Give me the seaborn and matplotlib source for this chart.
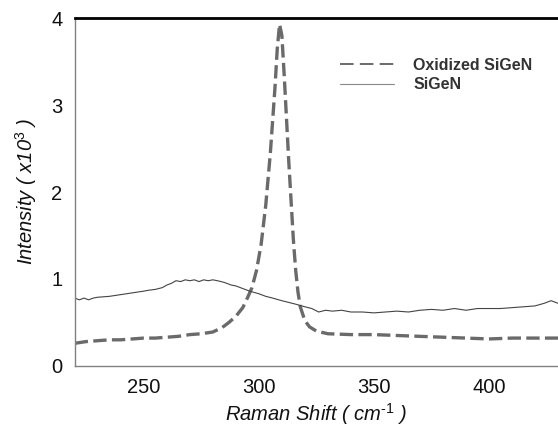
import pandas as pd
import seaborn as sns
import matplotlib.pyplot as plt

# spectre SiGeN (trait fin)
sigen_x = [220, 222, 224, 226, 228, 230, 235, 240, 245, 250, 252, 255, 258, 260, 262, 264,
           266, 268, 270, 272, 274, 276, 278, 280, 282, 285, 288, 290, 293, 296, 300, 303,
           306, 310, 313, 316, 320, 323, 326, 329, 332, 336, 340, 345, 350, 355, 360, 365,
           370, 375, 380, 385, 390, 395, 400, 405, 410, 415, 420, 424, 427, 430]
sigen_y = [0.78, 0.76, 0.78, 0.76, 0.78, 0.79, 0.80, 0.82, 0.84, 0.86, 0.87, 0.88, 0.90, 0.93,
           0.95, 0.98, 0.97, 0.99, 0.98, 0.99, 0.97, 0.99, 0.98, 0.99, 0.98, 0.96, 0.93, 0.92,
           0.89, 0.86, 0.83, 0.80, 0.78, 0.75, 0.73, 0.71, 0.68, 0.66, 0.62, 0.64, 0.63, 0.64,
           0.62, 0.62, 0.61, 0.62, 0.63, 0.62, 0.64, 0.65, 0.64, 0.66, 0.64, 0.66, 0.66, 0.66,
           0.67, 0.68, 0.69, 0.72, 0.75, 0.72]

# spectre SiGeN oxydé (tirets)
oxid_x = [220, 225, 230, 235, 240, 245, 250, 255, 260, 265, 270, 275, 280, 284, 287, 290,
          293, 295, 297, 299, 301, 303, 305, 307, 308, 309, 310, 311, 312, 313, 314, 315,
          316, 317, 318, 320, 322, 325, 330, 340, 350, 360, 370, 380, 390, 400, 410, 420, 430]
oxid_y = [0.26, 0.28, 0.29, 0.30, 0.30, 0.31, 0.32, 0.32, 0.33, 0.34, 0.36, 0.37, 0.39, 0.44,
          0.50, 0.57, 0.67, 0.78, 0.90, 1.10, 1.40, 1.85, 2.45, 3.20, 3.65, 3.93, 3.80, 3.35,
          2.85, 2.35, 1.90, 1.45, 1.10, 0.85, 0.68, 0.52, 0.45, 0.40, 0.37, 0.36, 0.36, 0.35,
          0.34, 0.33, 0.32, 0.31, 0.32, 0.32, 0.32]

x_ticks = [250, 300, 350, 400]
y_ticks = [0, 1, 2, 3, 4]

sns.set_style("white")
plt.rcParams['font.family'] = ['Liberation Sans', 'DejaVu Sans']
plt.rcParams['mathtext.fontset'] = 'custom'
plt.rcParams['mathtext.rm'] = 'Liberation Sans'
plt.rcParams['mathtext.it'] = 'Liberation Sans:italic'

fig = plt.figure(figsize=(5.58, 4.32), dpi=100)
ax = fig.add_axes([0.134, 0.153, 0.866, 0.805])

df_ox = pd.DataFrame({'x': oxid_x, 'y': oxid_y})
df_si = pd.DataFrame({'x': sigen_x, 'y': sigen_y})

sns.lineplot(data=df_ox, x='x', y='y', ax=ax, color='#6a6a6a', linewidth=2.4,
             label='Oxidized SiGeN')
ax.lines[-1].set_dashes([4, 1.6])
sns.lineplot(data=df_si, x='x', y='y', ax=ax, color='#444444', linewidth=0.8,
             label='SiGeN')

ax.set_xlim(220, 430)
ax.set_ylim(0, 4)
ax.set_xticks(x_ticks)
ax.set_yticks(y_ticks)
ax.tick_params(axis='both', labelsize=14.5, length=5, color='#777777',
               direction='in', labelcolor='#111111')
ax.tick_params(axis='x', pad=9)
ax.tick_params(axis='y', pad=9)

for side in ['left', 'bottom']:
    ax.spines[side].set_color('#808080')
    ax.spines[side].set_linewidth(1.0)
ax.spines['top'].set_color('black')
ax.spines['top'].set_linewidth(2.0)
ax.spines['right'].set_visible(False)

# trait d'union court pour l'exposant, comme dans l'original
ax.set_xlabel("Raman Shift ( cm$^{\\mathit{\u2010 1}}$ )", fontsize=14.5, style='italic',
              labelpad=3, color='#111111')
ax.set_ylabel(r"Intensity ( x10$^{\mathit{3}}$ )", fontsize=14.5, style='italic',
              labelpad=9, color='#111111')

leg = ax.legend(loc='upper left', bbox_to_anchor=(0.535, 0.905), frameon=False,
                prop={'size': 11.5, 'weight': 'bold'}, handlelength=3.4,
                handletextpad=1.2, labelspacing=0.3, borderaxespad=0)
for txt in leg.get_texts():
    txt.set_color('#333333')
h_ox, h_si = leg.get_lines()
h_ox.set_linewidth(1.4)
h_ox.set_dashes([7, 3.2])
h_si.set_linewidth(0.8)
h_si.set_color('#888888')

fig.savefig('out.png', dpi=100)
